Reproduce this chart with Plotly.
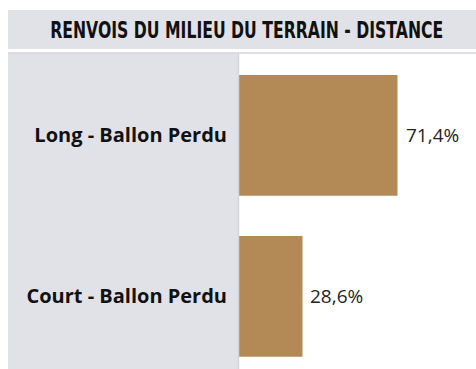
import plotly.graph_objects as go

# Data
categories = ["Long - Ballon Perdu", "Court - Ballon Perdu"]
values = [71.4, 28.6]
title_text = "RENVOIS DU MILIEU DU TERRAIN - DISTANCE"

W, H = 476, 369
L, T = 239, 53          # plot area left / top in px
PW, PH = W - L, H - T   # plot area size
TITLE_W = 393           # rendered title width in px (condensed look)
TITLE_STRETCH = 1.42    # vertical stretch of the title glyphs


def px_x(x):
    return (x - L) / PW


def px_y(y):
    return (H - y) / PH


BAR = "#b38a56"
PANEL = "#e1e2e8"

fig = go.Figure(
    go.Bar(
        y=categories,
        x=values,
        orientation="h",
        marker=dict(color=BAR, line=dict(width=0)),
        width=0.75,
        hoverinfo="skip",
    )
)

# value labels just right of each bar end
for cat, v in zip(categories, values):
    fig.add_annotation(
        x=v, y=cat, xref="x", yref="y",
        text=f"{v:.1f}%".replace(".", ","),
        showarrow=False, xanchor="left", yanchor="middle", xshift=6,
        font=dict(family="Open Sans", size=19, color="#252423"),
    )

# title band
fig.add_shape(type="rect", xref="paper", yref="paper", layer="below",
              x0=px_x(8), x1=1.0, y0=px_y(49), y1=px_y(10),
              fillcolor=PANEL, line_width=0)
fig.add_annotation(
    xref="paper", yref="paper", x=px_x(246.5), y=px_y(30.5),
    text=title_text, showarrow=False,
    xanchor="center", yanchor="middle",
    font=dict(family="DejaVu Sans", size=16, color="#111111", weight="bold"),
)

# category label panel
fig.add_shape(type="rect", xref="paper", yref="paper", layer="below",
              x0=px_x(8), x1=px_x(238.5), y0=0, y1=1,
              fillcolor=PANEL, line_width=0)
# separator lines
fig.add_shape(type="line", xref="paper", yref="paper", layer="below",
              x0=px_x(8), x1=1.0, y0=1, y1=1,
              line=dict(color="#d6d6da", width=1.5))
fig.add_shape(type="line", xref="paper", yref="paper", layer="above",
              x0=px_x(238.5), x1=px_x(238.5), y0=0, y1=1,
              line=dict(color="#d4d5da", width=1.5))

fig.update_layout(
    width=W, height=H,
    margin=dict(l=L, r=0, t=T, b=0, pad=0),
    paper_bgcolor="white", plot_bgcolor="white",
    showlegend=False,
    xaxis=dict(range=[0, PW / 2.22], visible=False, fixedrange=True),
    yaxis=dict(
        categoryorder="array", categoryarray=categories,
        range=[1.4512, -0.5115],
        showgrid=False, zeroline=False, showline=False,
        ticks="", ticklabelstandoff=11,
        tickfont=dict(family="Open Sans", size=20, color="#111111", weight="bold"),
        fixedrange=True,
    ),
)

# condensed, tall headline: squeeze to a fixed width, stretch vertically
post = """
var gd = document.getElementById('{plot_id}');
gd.querySelectorAll('.annotation-text').forEach(function (t) {
  if (t.textContent.indexOf('RENVOIS') === 0) {
    t.setAttribute('textLength', '%d');
    t.setAttribute('lengthAdjust', 'spacingAndGlyphs');
    var b = t.getBBox();
    var cy = b.y + b.height / 2;
    t.setAttribute('transform',
      'translate(0,' + cy + ') scale(1,%s) translate(0,' + (-cy) + ')');
  }
});
""" % (TITLE_W, TITLE_STRETCH)

fig.write_html("out.html", post_script=post)
